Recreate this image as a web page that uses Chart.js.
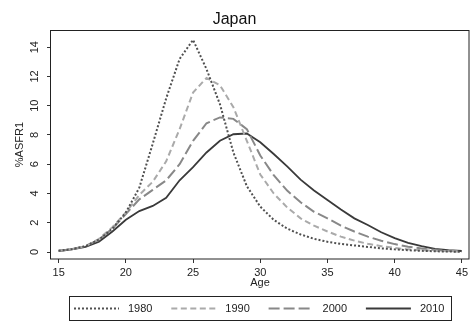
<!DOCTYPE html>
<html>
<head>
<meta charset="utf-8">
<title>Japan</title>
<script src="https://cdn.jsdelivr.net/npm/chart.js@4.4.0/dist/chart.umd.min.js"></script>
<style>
  html, body { margin: 0; padding: 0; background: #fff; }
</style>
</head>
<body>
<canvas id="asfr" width="472" height="322"></canvas>
<script>
// age-specific fertility rates (%), single years of age
var ages = [15, 16, 17, 18, 19, 20, 21, 22, 23, 24, 25, 26, 27, 28, 29, 30,
            31, 32, 33, 34, 35, 36, 37, 38, 39, 40, 41, 42, 43, 44, 45];
var asfr1980 = [0.08, 0.2, 0.4, 0.85, 1.6, 2.7, 4.4, 7.4, 10.5, 13.2, 14.5, 12.5, 10.1, 6.8, 4.5, 3.1,
                2.2, 1.6, 1.2, 0.9, 0.7, 0.55, 0.45, 0.35, 0.25, 0.18, 0.12, 0.08, 0.05, 0.03, 0.02];
var asfr1990 = [0.08, 0.2, 0.4, 0.9, 1.7, 2.7, 3.9, 4.8, 6.2, 8.4, 10.9, 11.9, 11.4, 9.9, 7.6, 5.3,
                4.0, 3.05, 2.3, 1.8, 1.4, 1.05, 0.78, 0.56, 0.4, 0.28, 0.18, 0.12, 0.08, 0.05, 0.03];
var asfr2000 = [0.08, 0.2, 0.4, 0.85, 1.6, 2.6, 3.6, 4.25, 4.9, 6.0, 7.6, 8.8, 9.2, 9.1, 8.4, 6.6,
                5.25, 4.2, 3.4, 2.75, 2.3, 1.8, 1.4, 1.05, 0.77, 0.54, 0.36, 0.24, 0.14, 0.08, 0.05];
var asfr2010 = [0.07, 0.18, 0.35, 0.7, 1.4, 2.2, 2.8, 3.15, 3.7, 4.9, 5.8, 6.8, 7.6, 8.05, 8.1, 7.5,
                6.7, 5.85, 4.95, 4.2, 3.55, 2.9, 2.3, 1.85, 1.35, 0.95, 0.62, 0.4, 0.22, 0.12, 0.07];

var xTicks = [15, 20, 25, 30, 35, 40, 45];
var yTicks = [0, 2, 4, 6, 8, 10, 12, 14];

function points(vals) {
  return ages.map(function(a, i) { return { x: a, y: vals[i] }; });
}

Chart.defaults.font.family = '"Liberation Sans", Arial, sans-serif';
Chart.defaults.color = '#222';

/* box round the plot region */
var frame = {
  id: 'frame',
  afterDatasetsDraw: function(chart) {
    var a = chart.chartArea, ctx = chart.ctx;
    ctx.save();
    ctx.strokeStyle = '#222';
    ctx.lineWidth = 1;
    ctx.strokeRect(Math.round(a.left) - 0.5, Math.round(a.top) + 0.5,
                   Math.round(a.right - a.left) + 0.5, Math.round(a.bottom - a.top) - 0.5);
    ctx.restore();
  }
};

/* boxed legend under the axis, one line sample per series */
var lineLegend = {
  id: 'lineLegend',
  afterDraw: function(chart) {
    var ctx = chart.ctx;
    var sets = chart.data.datasets;
    var w = 382, h = 24, step = 97.3;
    var cx = (chart.chartArea.left + chart.chartArea.right) / 2;
    var left = Math.round(cx - w / 2) + 0.5, top = 296.5;
    ctx.save();
    ctx.strokeStyle = '#222';
    ctx.lineWidth = 1;
    ctx.strokeRect(left, top, w, h);
    var y = top + h / 2;
    ctx.font = '11px "Liberation Sans", Arial, sans-serif';
    ctx.textBaseline = 'middle';
    ctx.fillStyle = '#222';
    sets.forEach(function(ds, i) {
      var x0 = left + 4.5 + i * step;
      ctx.beginPath();
      ctx.setLineDash(ds.borderDash || []);
      ctx.strokeStyle = ds.borderColor;
      ctx.lineWidth = ds.borderWidth;
      ctx.moveTo(x0, y);
      ctx.lineTo(x0 + 45, y);
      ctx.stroke();
      ctx.setLineDash([]);
      ctx.fillText(ds.label, x0 + 54, y);
    });
    ctx.restore();
  }
};

var ctx = document.getElementById('asfr').getContext('2d');

var chart = new Chart(ctx, {
  type: 'line',
  data: {
    datasets: [{
      label: '1980',
      data: points(asfr1980),
      borderColor: '#505050',
      borderWidth: 2,
      borderDash: [2, 2]
    },
    {
      label: '1990',
      data: points(asfr1990),
      borderColor: '#aaa',
      borderWidth: 2,
      borderDash: [6, 3.5]
    },
    {
      label: '2000',
      data: points(asfr2000),
      borderColor: '#888',
      borderWidth: 2,
      borderDash: [11, 4]
    },
    {
      label: '2010',
      data: points(asfr2010),
      borderColor: '#3a3a3a',
      borderWidth: 1.8
    }]
  },
  options: {
    responsive: false,
    devicePixelRatio: 1,
    animation: false,
    elements: {
      point: { radius: 0 },
      line: { tension: 0 }
    },
    layout: { padding: { left: 0, right: 3, top: 0, bottom: 30 } },
    plugins: {
      legend: { display: false },
      tooltip: { enabled: false },
      title: {
        display: true,
        text: 'Japan',
        color: '#111',
        font: { size: 16, weight: 'normal' },
        padding: { top: 10, bottom: 1 }
      }
    },
    scales: {
      x: {
        type: 'linear',
        min: 14.43,
        max: 45.53,
        afterBuildTicks: function(axis) {
          axis.ticks = xTicks.map(function(v) { return { value: v }; });
        },
        afterFit: function(axis) { axis.height = 33; },
        ticks: { autoSkip: false, maxRotation: 0, padding: 3, font: { size: 11 } },
        grid: { drawOnChartArea: false, tickLength: 4, color: '#333' },
        border: { display: false },
        title: { display: true, text: 'Age', font: { size: 11 }, padding: { top: 0, bottom: 2.4 } }
      },
      y: {
        min: -0.478,
        max: 15.16,
        afterBuildTicks: function(axis) {
          axis.ticks = yTicks.map(function(v) { return { value: v }; });
        },
        afterFit: function(axis) { axis.width = 51; },
        ticks: { autoSkip: false, minRotation: 90, maxRotation: 90, crossAlign: 'center', padding: 6, font: { size: 11 } },
        grid: { drawOnChartArea: false, tickLength: 4, color: '#333' },
        border: { display: false },
        title: { display: true, text: '%ASFR1', font: { size: 11 }, padding: { top: 13.4, bottom: 0 } }
      }
    }
  },
  plugins: [frame, lineLegend]
});
</script>
</body>
</html>
